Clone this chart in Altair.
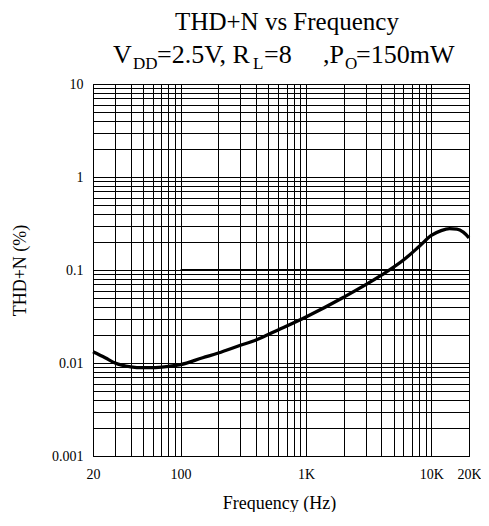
import altair as alt
import pandas as pd

# ---- data ----
freq_hz = [20, 25, 30, 40, 50, 60, 80, 100, 150, 200, 300, 400, 600, 1000,
           2000, 4000, 6000, 8000, 10000, 12000, 14000, 16000, 18000, 20000]
thd_pct = [0.0132, 0.0114, 0.0100, 0.0091, 0.0089, 0.0089, 0.0092, 0.0096,
           0.0114, 0.0128, 0.0155, 0.0177, 0.0227, 0.0313, 0.051, 0.088,
           0.128, 0.179, 0.235, 0.265, 0.278, 0.275, 0.255, 0.222]

x_grid = [20, 30, 40, 50, 60, 70, 80, 90, 100, 200, 300, 400, 500, 600, 700,
          800, 900, 1000, 2000, 3000, 4000, 5000, 6000, 7000, 8000, 9000,
          10000, 20000]
y_grid = [round(k * 10.0 ** e, 6) for e in range(-3, 1) for k in range(1, 10)] + [10]

x_labels = {20: "20", 100: "100", 1000: "1K", 10000: "10K", 20000: "20K"}
y_labels = {0.001: "0.001", 0.01: "0.01", 0.1: "0.1", 1: "1", 10: "10"}

title1 = "THD+N vs Frequency"
title2_pieces = ["V", "DD", "=2.5V, R", "L", "=8", ",P", "O", "=150mW"]
title2_is_sub = [False, True, False, True, False, False, True, False]

# ---- layout (pixels relative to plot area top-left) ----
W, H = 376, 372
title2_x = [20, 40, 64, 160, 171, 230, 252, 263]
SERIF = "Liberation Serif"

def expr_from(mapping):
    parts = [f"datum.value == {k} ? '{v}'" for k, v in mapping.items()]
    return " : ".join(parts) + " : ''"

df = pd.DataFrame({"f": freq_hz, "thd": thd_pct})

xscale = alt.Scale(type="log", domain=[20, 20000], nice=False)
yscale = alt.Scale(type="log", domain=[0.001, 10], nice=False)

xaxis = alt.Axis(values=x_grid, labelExpr=expr_from(x_labels), grid=True,
                 gridColor="black", gridOpacity=1, gridWidth=1, tickSize=0,
                 domainColor="black", labelFont=SERIF, labelFontSize=14,
                 labelColor="black", labelPadding=11, labelOverlap=False,
                 labelFlush=False, title="Frequency (Hz)", titleFont=SERIF,
                 titleFontSize=18, titleFontWeight="normal", titleColor="black",
                 titleX=186, titleY=47, titleBaseline="middle", titleAlign="center")
yaxis = alt.Axis(values=y_grid, labelExpr=expr_from(y_labels), grid=True,
                 gridColor="black", gridOpacity=1, gridWidth=1, tickSize=0,
                 domainColor="black", labelFont=SERIF, labelFontSize=14,
                 labelColor="black", labelPadding=10, labelOverlap=False,
                 labelFlush=False, title="THD+N (%)", titleFont=SERIF,
                 titleFontSize=18, titleFontWeight="normal", titleColor="black",
                 titleX=-73, titleY=H / 2, titleAngle=-90, titleAlign="center",
                 titleBaseline="middle")

line = alt.Chart(df).mark_line(color="black", strokeWidth=3.3,
                               interpolate="monotone").encode(
    x=alt.X("f:Q", scale=xscale, axis=xaxis),
    y=alt.Y("thd:Q", scale=yscale, axis=yaxis),
)

ref_df = pd.DataFrame({"a": [100], "b": [10000], "v": [0.1]})
ref_rule = alt.Chart(ref_df).mark_rule(color="black", strokeWidth=1.8).encode(
    x=alt.X("a:Q", scale=xscale), x2="b:Q", y=alt.Y("v:Q", scale=yscale))

layers = [ref_rule, line]

one = pd.DataFrame({"d": [0]})
layers.append(alt.Chart(one).mark_text(font=SERIF, fontSize=25, align="center",
                                       baseline="alphabetic", color="black").encode(
    x=alt.value(194), y=alt.value(-54), text=alt.value(title1)))
for txt, sub, px in zip(title2_pieces, title2_is_sub, title2_x):
    layers.append(alt.Chart(one).mark_text(
        font=SERIF, fontSize=17 if sub else 26, align="left",
        baseline="alphabetic", color="black").encode(
        x=alt.value(px), y=alt.value(-15 if sub else -21), text=alt.value(txt)))

chart = alt.layer(*layers).properties(
    width=W, height=H,
    autosize=alt.AutoSizeParams(type="none"),
    padding={"left": 85, "top": 76, "right": 12, "bottom": 56},
    background="white",
).configure_view(stroke="black", strokeWidth=1).configure_axis(
    labelFont=SERIF, titleFont=SERIF)

chart.save("out.html", embed_options={"renderer": "svg", "actions": False})
